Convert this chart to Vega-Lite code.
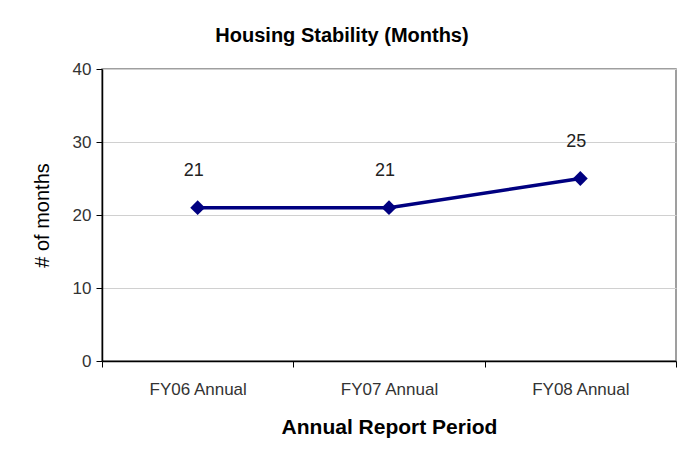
{
  "$schema": "https://vega.github.io/schema/vega-lite/v6.json",
  "autosize": "none",
  "width": 574,
  "height": 292,
  "padding": {"left": 102, "top": 69, "right": 22, "bottom": 93},
  "background": "white",
  "config": {
    "font": "Liberation Sans",
    "view": {"stroke": "#808080", "strokeWidth": 1.5}
  },
  "title": {
    "text": "Housing Stability (Months)",
    "fontSize": 20,
    "fontWeight": "bold",
    "color": "#000000",
    "anchor": "middle",
    "dx": -47,
    "offset": 14
  },
  "data": {
    "values": [
      {"period": "FY06 Annual", "months": 21},
      {"period": "FY07 Annual", "months": 21},
      {"period": "FY08 Annual", "months": 25}
    ]
  },
  "encoding": {
    "x": {
      "field": "period",
      "type": "nominal",
      "sort": null,
      "scale": {"paddingInner": 0, "paddingOuter": 0},
      "axis": {
        "title": "Annual Report Period",
        "titleFontSize": 21,
        "titleFontWeight": "bold",
        "titleColor": "#000000",
        "titlePadding": 19,
        "labelAngle": 0,
        "labelFontSize": 17,
        "labelColor": "#333333",
        "labelPadding": 14,
        "tickBand": "extent",
        "tickSize": 6,
        "tickColor": "#000000",
        "domainColor": "#000000",
        "domainWidth": 1.5,
        "grid": false
      }
    },
    "y": {
      "field": "months",
      "type": "quantitative",
      "scale": {"domain": [0, 40]},
      "axis": {
        "title": "# of months",
        "titleFontSize": 20,
        "titleFontWeight": "normal",
        "titleColor": "#000000",
        "titlePadding": 20,
        "values": [0, 10, 20, 30, 40],
        "labelFontSize": 17,
        "labelColor": "#333333",
        "labelPadding": 5,
        "tickSize": 6,
        "tickColor": "#000000",
        "domainColor": "#000000",
        "domainWidth": 1.5,
        "gridColor": "#d0d0d0",
        "gridWidth": 1
      }
    }
  },
  "layer": [
    {
      "mark": {"type": "line", "color": "#000080", "strokeWidth": 3.5}
    },
    {
      "mark": {"type": "point", "shape": "diamond", "filled": true, "color": "#000080", "size": 220, "opacity": 1}
    },
    {
      "mark": {"type": "text", "fontSize": 18, "color": "#222222", "dy": -37, "dx": -4},
      "encoding": {"text": {"field": "months", "type": "quantitative"}}
    }
  ]
}
